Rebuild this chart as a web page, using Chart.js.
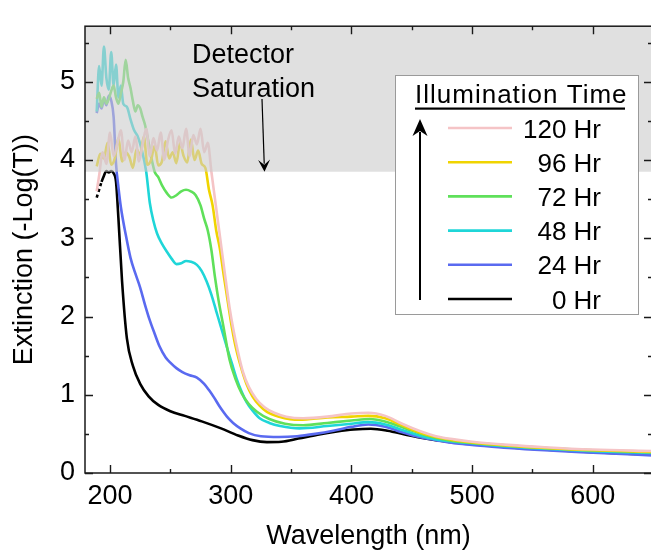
<!DOCTYPE html>
<html>
<head>
<meta charset="utf-8">
<script src="https://cdn.jsdelivr.net/npm/chart.js@4/dist/chart.umd.min.js"></script>
<style>
  html, body { margin: 0; padding: 0; background: #fff; overflow: hidden; }
  #wrap { position: relative; width: 660px; height: 553px; }
</style>
</head>
<body>
<div id="wrap"><canvas id="c"></canvas></div>
<script>
// Extinction spectra, one wavelength/value pair of arrays per illumination time
const wl0h = [189,191,193,195,197,199,201,203,205,207,210,214,219,225,232,240,250,262,276,292,306,318,330,342,356,372,388,402,416,430,445,460,480,500,530,560,600,650];
const ext0h = [3.52,3.62,3.72,3.8,3.86,3.84,3.86,3.83,3.72,3.25,2.45,1.72,1.37,1.14,0.98,0.87,0.79,0.73,0.66,0.57,0.48,0.42,0.395,0.40,0.44,0.49,0.53,0.555,0.565,0.54,0.49,0.445,0.40,0.37,0.33,0.30,0.265,0.235];

const wl24h = [189,191,193,195,197,199,201,203,205,207,209,213,217,221,225,229,233,237,241,246,250,255,260,266,272,278,282,286,290,294,298,302,308,315,325,340,355,370,385,400,414,428,442,456,470,485,500,530,560,600,650];
const ext24h = [4.6,4.72,4.66,4.78,4.7,4.82,4.76,4.55,3.95,3.65,3.4,3.05,2.75,2.55,2.37,2.15,1.95,1.78,1.62,1.48,1.41,1.34,1.29,1.25,1.22,1.14,1.06,0.97,0.87,0.78,0.7,0.64,0.57,0.51,0.47,0.46,0.47,0.5,0.54,0.59,0.62,0.59,0.52,0.46,0.42,0.38,0.36,0.32,0.29,0.26,0.225];

const wl48h = [189,191,193,195,197,199,201,203,205,207,209,211,214,217,220,223,226,230,233,236,239,243,247,251,255,259,263,267,272,276,280,284,288,292,297,301,305,309,313,318,324,332,341,357,380,400,414,428,442,456,470,485,500,530,560,600,650];
const ext48h = [4.62,5.2,4.95,5.45,5.05,4.9,5.38,4.95,5.22,4.8,4.95,4.72,4.68,4.52,4.38,4.3,4.15,3.85,3.45,3.22,3.06,2.93,2.83,2.74,2.67,2.68,2.71,2.7,2.66,2.58,2.45,2.28,2.07,1.86,1.6,1.4,1.2,1.04,0.91,0.8,0.7,0.64,0.6,0.57,0.6,0.63,0.65,0.62,0.55,0.48,0.43,0.4,0.38,0.34,0.31,0.28,0.255];

const wl72h = [189,191,193,195,197,199,201,203,205,207,209,211,213,215,217,219,221,223,225,227,229,231,234,237,240,243,247,251,255,259,263,267,271,275,278,281,284,287,290,294,299,304,309,315,322,332,345,360,380,400,415,430,445,460,480,500,530,560,600,650];
const ext72h = [4.78,4.86,4.68,4.8,4.72,4.78,4.88,4.95,4.8,4.72,4.85,5.0,5.28,5.05,4.92,4.75,4.62,4.7,4.66,4.55,4.45,4.3,4.05,3.85,3.78,3.68,3.58,3.52,3.55,3.6,3.62,3.6,3.55,3.42,3.25,3.1,2.85,2.5,2.2,1.87,1.45,1.2,1.02,0.88,0.78,0.69,0.63,0.61,0.64,0.67,0.69,0.65,0.57,0.49,0.42,0.385,0.35,0.32,0.29,0.265];

const wl96h = [189,192,195,198,201,204,207,210,213,216,219,222,225,228,231,234,237,240,243,246,249,252,255,258,261,264,267,270,273,276,279,282,285,288,291,294,297,300,304,308,313,318,324,330,340,357,380,400,414,428,442,456,470,485,500,530,560,600,650];
const ext96h = [3.92,4.08,4.02,4.22,3.94,4.02,4.28,3.98,4.1,4.04,3.9,4.14,4.06,4.3,3.94,4.0,4.18,3.93,3.98,4.24,4.02,4.1,3.96,4.22,4.05,3.97,4.26,4.0,4.12,3.95,3.9,3.62,3.42,3.1,2.87,2.55,2.25,1.95,1.62,1.38,1.14,0.98,0.86,0.78,0.72,0.68,0.71,0.72,0.73,0.7,0.61,0.52,0.46,0.42,0.39,0.35,0.32,0.29,0.27];

const wl120h = [189,191,194,197,200,203,206,209,212,215,218,221,224,227,230,233,236,239,242,245,248,251,254,257,260,263,266,269,272,275,278,281,284,287,290,293,296,299,302,306,310,315,321,328,336,346,360,380,400,414,428,442,456,470,485,500,530,560,600,650];
const ext120h = [3.6,3.8,4.1,3.95,4.35,4.05,4.2,4.38,4.0,4.25,4.1,4.3,3.98,4.2,4.4,4.05,4.28,4.12,4.35,4.0,4.25,4.38,4.08,4.3,4.15,4.4,4.05,4.32,4.2,4.4,4.1,4.22,3.85,3.5,3.15,2.8,2.45,2.12,1.85,1.55,1.3,1.1,0.95,0.84,0.77,0.72,0.7,0.72,0.76,0.77,0.73,0.63,0.54,0.47,0.43,0.4,0.36,0.33,0.3,0.28];

const seriesLabels = ['120 Hr', '96 Hr', '72 Hr', '48 Hr', '24 Hr', '0 Hr'];
const seriesColors = ['#f5c4c6', '#f0d400', '#5fe05a', '#1fd6d8', '#5a6af0', '#000000'];
const seriesWl = [wl120h, wl96h, wl72h, wl48h, wl24h, wl0h];
const seriesExt = [ext120h, ext96h, ext72h, ext48h, ext24h, ext0h];

const xTicks = [200, 300, 400, 500, 600];
const yTicks = [0, 1, 2, 3, 4, 5];
const saturationLevel = 3.85;

const FONT = '"Liberation Sans", Arial, sans-serif';

const toPoints = (wl, ext) => wl.map((x, i) => ({ x, y: ext[i] }));

// pink on top, black at the bottom of the stack
const datasets = seriesLabels.map((label, i) => ({
  label,
  data: toPoints(seriesWl[i], seriesExt[i]),
  borderColor: seriesColors[i],
  borderWidth: 2.6,
  pointRadius: 0,
  cubicInterpolationMode: 'monotone',
  order: i,
  segment: label === '0 Hr'
    ? { borderDash: ctx => (ctx.p1.parsed.x <= 193 ? [3, 3] : undefined) }
    : undefined,
}));

// grey band, inward ticks on all four sides, annotation and legend
const decorPlugin = {
  id: 'decor',
  afterDatasetsDraw(chart) {
    const { ctx, chartArea: a, scales: { x, y } } = chart;
    ctx.save();

    const yb = y.getPixelForValue(saturationLevel);
    ctx.fillStyle = 'rgba(203,203,203,0.6)';
    ctx.fillRect(a.left, a.top, a.right - a.left, yb - a.top);

    // frame
    ctx.strokeStyle = '#1a1a1a';
    ctx.lineWidth = 1.5;
    ctx.strokeRect(a.left, a.top, a.right - a.left, a.bottom - a.top);

    ctx.lineWidth = 1.4;
    ctx.beginPath();
    for (let v = 200; v <= 650; v += 50) {
      const px = Math.round(x.getPixelForValue(v)) + 0.5;
      const len = v % 100 === 0 ? 8 : 4;
      ctx.moveTo(px, a.bottom); ctx.lineTo(px, a.bottom - len);
      ctx.moveTo(px, a.top); ctx.lineTo(px, a.top + len);
    }
    for (let v = 0; v <= 5.5; v += 0.5) {
      const py = Math.round(y.getPixelForValue(v)) + 0.5;
      const len = Number.isInteger(v) ? 8 : 4;
      ctx.moveTo(a.left, py); ctx.lineTo(a.left + len, py);
      ctx.moveTo(a.right, py); ctx.lineTo(a.right - len, py);
    }
    ctx.stroke();

    // saturation note with arrow
    ctx.fillStyle = '#000';
    ctx.font = '27px ' + FONT;
    ctx.textBaseline = 'alphabetic';
    ctx.textAlign = 'left';
    ctx.fillText('Detector', 192, 63);
    ctx.fillText('Saturation', 192, 97);
    drawArrow(ctx, 262, 99, 264.5, yb, 1.2, 6, 12);

    // legend box
    const bx = 395, by = 75, bw = 243, bh = 239;
    ctx.fillStyle = '#fff';
    ctx.fillRect(bx, by, bw, bh);
    ctx.strokeStyle = '#9a9a9a';
    ctx.lineWidth = 1;
    ctx.strokeRect(bx + 0.5, by + 0.5, bw, bh);

    ctx.fillStyle = '#000';
    ctx.font = '26px ' + FONT;
    ctx.letterSpacing = '1px';
    ctx.fillText('Illumination Time', 415, 103);
    ctx.letterSpacing = '0px';
    ctx.fillRect(415, 107.5, 210, 2.2);

    ctx.textAlign = 'right';
    seriesLabels.forEach((label, i) => {
      const ly = 128 + i * 34.2;
      ctx.strokeStyle = seriesColors[i];
      ctx.lineWidth = 2.6;
      ctx.beginPath();
      ctx.moveTo(448, ly); ctx.lineTo(512, ly);
      ctx.stroke();
      ctx.fillStyle = '#000';
      ctx.fillText(label, 601, ly + 9.5);
    });

    drawArrow(ctx, 420, 300, 420, 119, 2, 7.5, 17);
    ctx.restore();
  }
};

function drawArrow(ctx, x1, y1, x2, y2, width, headHalf, headLen) {
  const ang = Math.atan2(y2 - y1, x2 - x1);
  const bx = x2 - Math.cos(ang) * headLen, by = y2 - Math.sin(ang) * headLen;
  ctx.strokeStyle = '#000';
  ctx.lineWidth = width;
  ctx.beginPath();
  ctx.moveTo(x1, y1);
  ctx.lineTo(bx + Math.cos(ang) * 4, by + Math.sin(ang) * 4);
  ctx.stroke();
  const nx = -Math.sin(ang), ny = Math.cos(ang);
  ctx.fillStyle = '#000';
  ctx.beginPath();
  ctx.moveTo(x2, y2);
  ctx.lineTo(bx + nx * headHalf, by + ny * headHalf);
  ctx.lineTo(bx + Math.cos(ang) * 5, by + Math.sin(ang) * 5);
  ctx.lineTo(bx - nx * headHalf, by - ny * headHalf);
  ctx.closePath();
  ctx.fill();
}

new Chart(document.getElementById('c'), {
  type: 'line',
  data: { datasets },
  plugins: [decorPlugin],
  options: {
    responsive: true,
    maintainAspectRatio: false,
    animation: false,
    layout: { padding: { top: 16, right: 8, left: 0, bottom: 0 } },
    plugins: { legend: { display: false }, tooltip: { enabled: false } },
    scales: {
      x: {
        type: 'linear',
        min: 179.3,
        max: 649,
        afterBuildTicks: s => { s.ticks = xTicks.map(v => ({ value: v })); },
        afterFit: s => { s.height = 80; },
        grid: { display: false, drawTicks: false },
        border: { display: false },
        ticks: { color: '#000', padding: 7, font: { family: FONT, size: 27 } },
        title: { display: true, text: 'Wavelength (nm)', color: '#000', padding: 0, font: { family: FONT, size: 27 } },
      },
      y: {
        min: 0,
        max: 5.71,
        afterBuildTicks: s => { s.ticks = yTicks.map(v => ({ value: v })); },
        afterFit: s => { s.width = 85; },
        grid: { display: false, drawTicks: false },
        border: { display: false },
        ticks: { color: '#000', padding: 10, font: { family: FONT, size: 27 } },
        title: { display: true, text: 'Extinction (-Log(T))', color: '#000', padding: { top: 8, bottom: 0 }, font: { family: FONT, size: 27 } },
      },
    },
  },
});
</script>
</body>
</html>
